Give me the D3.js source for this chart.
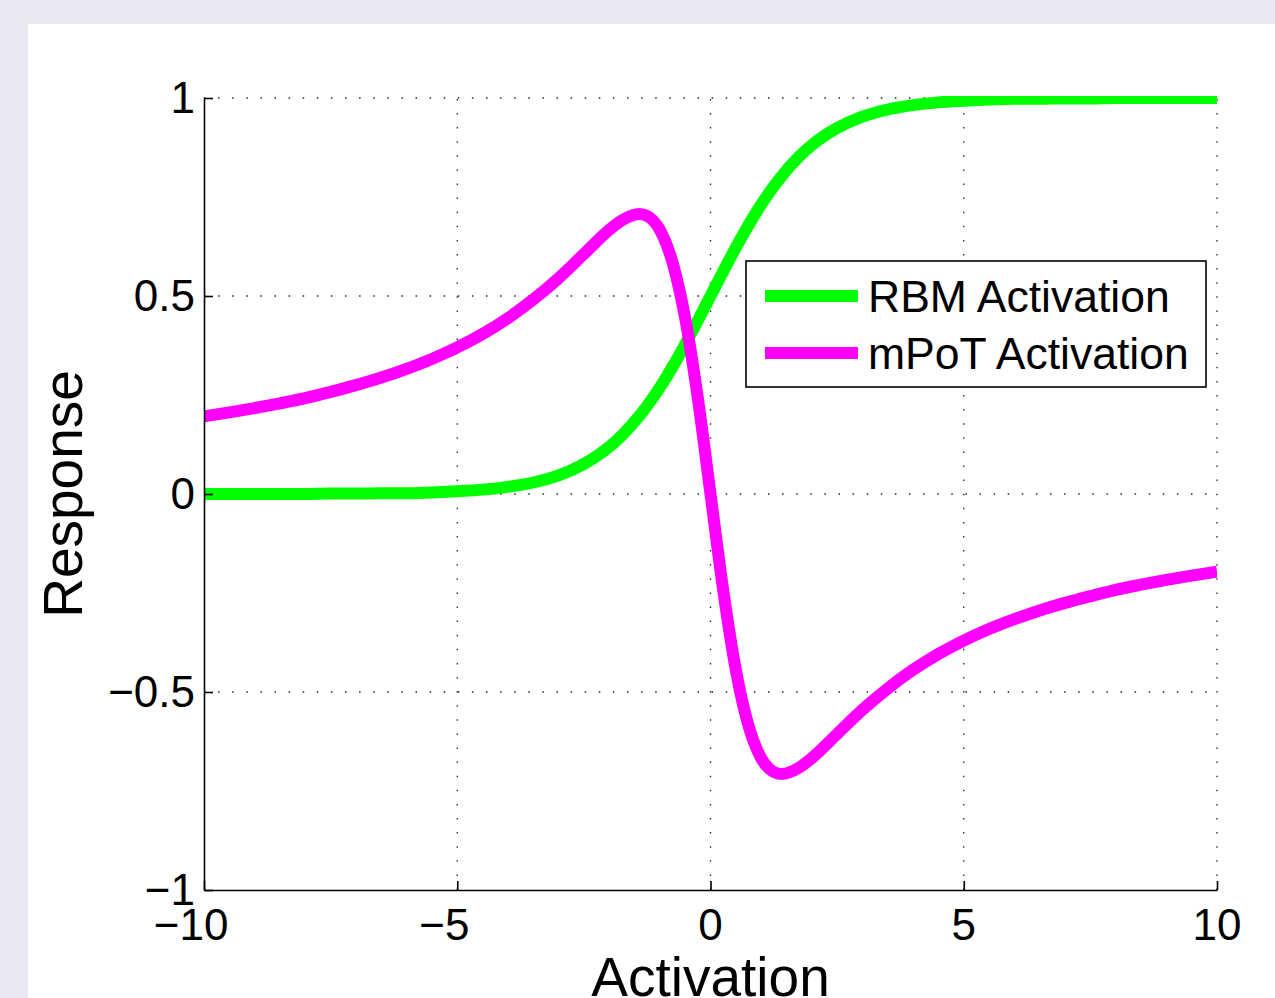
<!DOCTYPE html>
<html>
<head>
<meta charset="utf-8">
<title>Activation</title>
<script src="https://d3js.org/d3.v7.min.js"></script>
<style>
  html, body { margin: 0; padding: 0; background: #e9e9f3; }
  svg { display: block; font-family: "Liberation Sans", Arial, sans-serif; }
</style>
</head>
<body>
<script>
// values
var activation = [-10, -9.5, -9, -8.5, -8, -7.5, -7, -6.5, -6, -5.5, -5, -4.5, -4, -3.5, -3, -2.5,
  -2, -1.75, -1.4, -1.25, -1, -0.75, -0.5, -0.25, 0, 0.25, 0.5, 0.75, 1, 1.25, 1.4, 1.75, 2,
  2.5, 3, 3.5, 4, 4.5, 5, 5.5, 6, 6.5, 7, 7.5, 8, 8.5, 9, 9.5, 10];
var rbm = [0.000, 0.000, 0.000, 0.000, 0.000, 0.001, 0.001, 0.002, 0.002, 0.004, 0.007, 0.011, 0.018, 0.029, 0.047, 0.076,
  0.119, 0.148, 0.198, 0.223, 0.269, 0.321, 0.378, 0.438, 0.500, 0.562, 0.622, 0.679, 0.731, 0.777, 0.802, 0.852, 0.881,
  0.924, 0.953, 0.971, 0.982, 0.989, 0.993, 0.996, 0.998, 0.998, 0.999, 0.999, 1.000, 1.000, 1.000, 1.000, 1.000];
var mpot = [0.196, 0.206, 0.217, 0.229, 0.242, 0.258, 0.275, 0.294, 0.316, 0.341, 0.370, 0.404, 0.444, 0.491, 0.545, 0.606,
  0.667, 0.691, 0.707, 0.702, 0.667, 0.585, 0.444, 0.242, 0.000, -0.242, -0.444, -0.585, -0.667, -0.702, -0.707, -0.691, -0.667,
  -0.606, -0.545, -0.491, -0.444, -0.404, -0.370, -0.341, -0.316, -0.294, -0.275, -0.258, -0.242, -0.229, -0.217, -0.206, -0.196];
var seriesNames = ["RBM Activation", "mPoT Activation"];
var seriesColors = ["#00ff00", "#ff00ff"];
var xTicks = [-10, -5, 0, 5, 10];
var yTicks = [-1, -0.5, 0, 0.5, 1];

var W = 1275, H = 998;
var plotL = 204, plotR = 1217, plotT = 98, plotB = 890;

var svg = d3.select("body").append("svg")
  .attr("width", W)
  .attr("height", H);

svg.append("rect")
  .attr("x", 28).attr("y", 24)
  .attr("width", W - 28).attr("height", H - 24)
  .attr("fill", "#fff");

var x = d3.scaleLinear().domain([-10, 10]).range([plotL, plotR]);
var y = d3.scaleLinear().domain([-1, 1]).range([plotB, plotT]);

function fmt(v) {
  return (v < 0 ? "\u2212" : "") + Math.abs(v);
}

// dotted grid
var grid = svg.append("g")
  .attr("stroke", "#222")
  .attr("stroke-width", 1.3)
  .attr("stroke-dasharray", "1.5,12.6");
grid.selectAll("line.gx")
  .data(xTicks.filter(function (d) { return d > -10; }))
  .enter().append("line")
    .attr("x1", function (d) { return x(d); })
    .attr("x2", function (d) { return x(d); })
    .attr("y1", plotB)
    .attr("y2", plotT);
grid.selectAll("line.gy")
  .data(yTicks.filter(function (d) { return d > -1; }))
  .enter().append("line")
    .attr("x1", plotL)
    .attr("x2", plotR)
    .attr("y1", function (d) { return y(d); })
    .attr("y2", function (d) { return y(d); });

// curves
svg.append("clipPath").attr("id", "clip")
  .append("rect")
    .attr("x", plotL).attr("y", plotT - 2)
    .attr("width", plotR - plotL).attr("height", plotB - plotT + 2);

var line = d3.line()
  .x(function (d) { return x(d[0]); })
  .y(function (d) { return y(d[1]); })
  .curve(d3.curveMonotoneX);

var allSeries = [rbm, mpot];
svg.append("g").attr("clip-path", "url(#clip)")
  .selectAll("path")
  .data(allSeries)
  .enter().append("path")
    .attr("d", function (s) { return line(activation.map(function (a, i) { return [a, s[i]]; })); })
    .attr("fill", "none")
    .attr("stroke", function (s, i) { return seriesColors[i]; })
    .attr("stroke-width", 12)
    .attr("stroke-linejoin", "round");

// axes
var xAxis = svg.append("g")
  .attr("transform", "translate(0," + plotB + ")")
  .call(d3.axisBottom(x).tickValues(xTicks).tickSizeInner(-9).tickSizeOuter(0).tickFormat(""));
var yAxis = svg.append("g")
  .attr("transform", "translate(" + plotL + ",0)")
  .call(d3.axisLeft(y).tickValues(yTicks).tickSizeInner(-9).tickSizeOuter(0).tickFormat(""));
[xAxis, yAxis].forEach(function (g) {
  g.selectAll("path.domain").attr("stroke", "#000").attr("stroke-width", 1.6);
  g.selectAll(".tick line").attr("stroke", "#000").attr("stroke-width", 1.6);
});

// y tick labels
svg.selectAll("text.ylab")
  .data(yTicks)
  .enter().append("text")
    .attr("class", "ylab")
    .attr("x", 195)
    .attr("y", function (d) { return y(d) + 15; })
    .attr("text-anchor", "end")
    .attr("font-size", 44)
    .text(fmt);

// x tick labels: digits centred on the tick, minus hanging to the left
xTicks.forEach(function (d) {
  var t = svg.append("text")
    .attr("x", x(d))
    .attr("y", 940)
    .attr("text-anchor", "middle")
    .attr("font-size", 44)
    .text(Math.abs(d));
  if (d < 0) {
    var w = t.node().getComputedTextLength();
    svg.append("text")
      .attr("x", x(d) - w / 2)
      .attr("y", 940)
      .attr("text-anchor", "end")
      .attr("font-size", 44)
      .text("\u2212");
  }
});

// axis titles
svg.append("text")
  .attr("x", (plotL + plotR) / 2)
  .attr("y", 996)
  .attr("text-anchor", "middle")
  .attr("font-size", 55)
  .text("Activation");
svg.append("text")
  .attr("transform", "translate(82," + ((plotT + plotB) / 2) + ") rotate(-90)")
  .attr("text-anchor", "middle")
  .attr("font-size", 55)
  .text("Response");

// legend
var legend = svg.append("g");
legend.append("rect")
  .attr("x", 746).attr("y", 261)
  .attr("width", 460).attr("height", 126)
  .attr("fill", "#fff")
  .attr("stroke", "#000")
  .attr("stroke-width", 1.6);
var rows = legend.selectAll("g.row")
  .data(seriesNames)
  .enter().append("g")
    .attr("transform", function (d, i) { return "translate(0," + (296 + i * 57) + ")"; });
rows.append("line")
  .attr("x1", 765).attr("x2", 858)
  .attr("stroke", function (d, i) { return seriesColors[i]; })
  .attr("stroke-width", 12);
rows.append("text")
  .attr("x", 868)
  .attr("y", 16)
  .attr("font-size", 44.5)
  .text(function (d) { return d; });
</script>
</body>
</html>
